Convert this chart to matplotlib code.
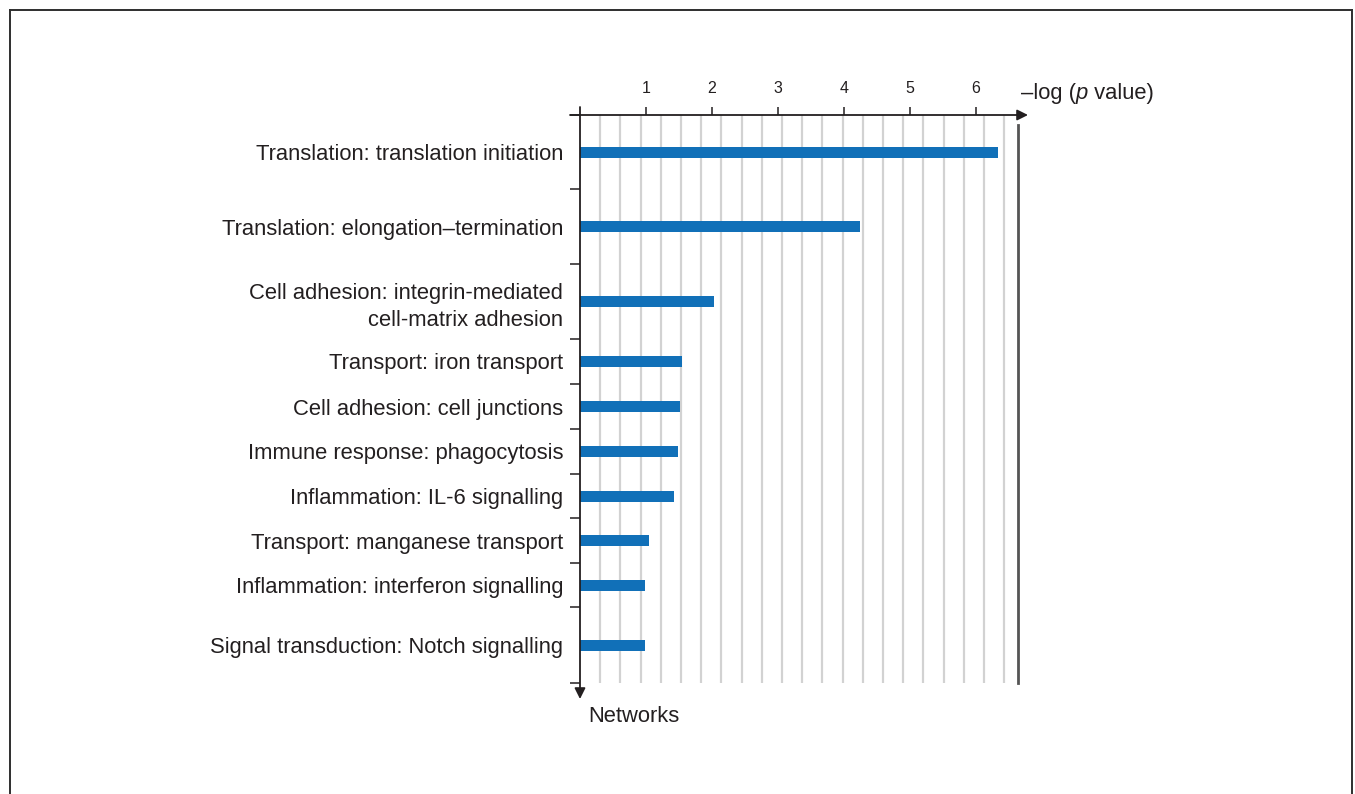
import numpy as np
import matplotlib
matplotlib.use("Agg")
import matplotlib.pyplot as plt
from matplotlib.lines import Line2D

plt.rcParams['font.family'] = ['Liberation Sans', 'DejaVu Sans']

# ---- data ----
categories = [
    "Translation: translation initiation",
    "Translation: elongation\u2013termination",
    "Cell adhesion: integrin-mediated\ncell-matrix adhesion",
    "Transport: iron transport",
    "Cell adhesion: cell junctions",
    "Immune response: phagocytosis",
    "Inflammation: IL-6 signalling",
    "Transport: manganese transport",
    "Inflammation: interferon signalling",
    "Signal transduction: Notch signalling",
]
values = [6.33, 4.24, 2.03, 1.545, 1.515, 1.485, 1.42, 1.045, 0.985, 0.985]
x_ticks = [1, 2, 3, 4, 5, 6]
x_label_parts = ["\u2013log (", "p", " value)"]
y_label = "Networks"

# ---- layout (pixels) ----
W, H, DPI = 1355, 794, 100
band_px = [74, 75, 75, 45, 45, 45, 44, 45, 44, 76]
bounds = np.concatenate([[0], np.cumsum(band_px)])
centers = (bounds[:-1] + bounds[1:]) / 2
total = bounds[-1]
px_per_unit = 66.0
ax_left_px, ax_top_px = 580, 115
ax_width_px = 438
xmax = ax_width_px / px_per_unit

AX = "#231f20"
BAR = "#1170b8"
GRID = "#d2d2d2"

fig = plt.figure(figsize=(W / DPI, H / DPI), dpi=DPI)
ax = fig.add_axes([ax_left_px / W, 1 - (ax_top_px + total) / H,
                   ax_width_px / W, total / H])
ax.set_xlim(0, xmax)
ax.set_ylim(total, 0)
for s in ax.spines.values():
    s.set_visible(False)

# grid lines
grid_step = 20.2 / px_per_unit
grid_x = np.arange(1, 22) * grid_step
ax.vlines(grid_x, 0, total, color=GRID, lw=1.6, zorder=1)

# right border line
ax.plot([xmax, xmax], [10, total], color="#555555", lw=2.0, zorder=2,
        clip_on=False)

# bars
ax.barh(centers, values, height=11, color=BAR, zorder=3)

# top x axis
ax.xaxis.tick_top()
ax.set_xticks(x_ticks)
ax.set_xticklabels([str(t) for t in x_ticks])
ax.tick_params(axis='x', direction='out', length=6, width=1.1, color=AX,
               labelsize=11.5, pad=7.5, labelcolor=AX)

# y ticks / labels
ax.set_yticks(centers)
ax.set_yticklabels(categories)
ax.tick_params(axis='y', length=0, pad=12, labelsize=15.8, labelcolor=AX)
for lab in ax.get_yticklabels():
    lab.set_linespacing(1.4)
ax.set_yticks(bounds, minor=True)
ax.tick_params(axis='y', which='minor', direction='out', length=7.2,
               width=1.1, color=AX)

# axis arrows
ax.annotate("", xy=((1028 - ax_left_px) / px_per_unit, 0),
            xytext=(-10 / px_per_unit, 0),
            arrowprops=dict(arrowstyle='-|>', color=AX, lw=1.3,
                            mutation_scale=16, shrinkA=0, shrinkB=0),
            annotation_clip=False, zorder=5)
ax.annotate("", xy=(0, 699 - ax_top_px), xytext=(0, -8),
            arrowprops=dict(arrowstyle='-|>', color=AX, lw=1.3,
                            mutation_scale=16, shrinkA=0, shrinkB=0),
            annotation_clip=False, zorder=5)

# x axis label built from pieces (italic p)
fig.canvas.draw()
renderer = fig.canvas.get_renderer()
x0 = 1021 / W
yl = 1 - 91 / H
styles = ['normal', 'italic', 'normal']
for part, st in zip(x_label_parts, styles):
    t = fig.text(x0, yl, part, fontsize=15.8, color=AX, ha='left',
                 va='center_baseline', style=st)
    bb = t.get_window_extent(renderer=renderer)
    x0 += bb.width / W

fig.text(588 / W, 1 - 717 / H, y_label, fontsize=15.8, color=AX,
         ha='left', va='center')

# outer frame (left, top, right)
fc = "#2e2e2e"
fig.add_artist(Line2D([10 / W, 10 / W], [0, 1 - 10 / H], color=fc, lw=1.4))
fig.add_artist(Line2D([10 / W, 1352 / W], [1 - 10 / H, 1 - 10 / H],
                      color=fc, lw=1.4))
fig.add_artist(Line2D([1352 / W, 1352 / W], [0, 1 - 10 / H], color=fc,
                      lw=1.4))

fig.savefig("out.png", dpi=DPI)
